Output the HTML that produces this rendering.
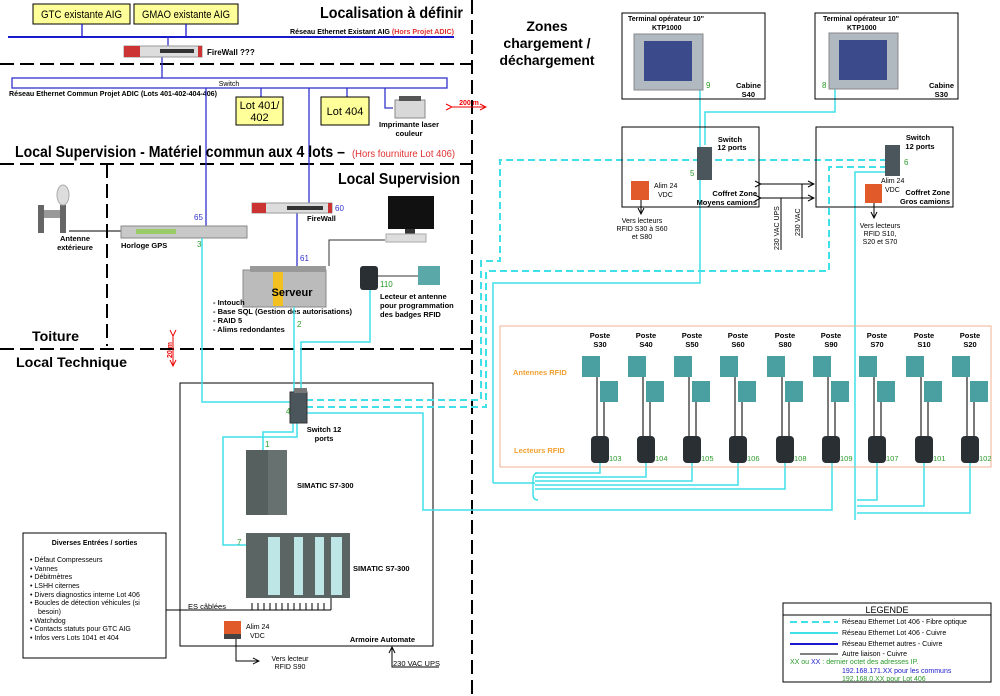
<!DOCTYPE html>
<html><head><meta charset="utf-8"><style>
html,body{margin:0;padding:0;background:#fff}
svg{display:block;font-family:"Liberation Sans",Arial,sans-serif}
.b{font-weight:bold}
</style></head><body>
<svg width="1000" height="696" viewBox="0 0 1000 696" xmlns="http://www.w3.org/2000/svg">
<defs>
<marker id="ah" markerWidth="8" markerHeight="8" refX="7" refY="4" orient="auto"><path d="M1,1 L7,4 L1,7" fill="none" stroke="#000" stroke-width="1"/></marker>
<marker id="ar" markerWidth="8" markerHeight="8" refX="7" refY="4" orient="auto"><path d="M1,1 L7,4 L1,7" fill="none" stroke="#e00" stroke-width="1"/></marker>
</defs>
<g stroke="#000" stroke-width="2" stroke-dasharray="14,6" fill="none">
<line x1="0" y1="64" x2="472" y2="64"/>
<line x1="0" y1="164" x2="472" y2="164"/>
<line x1="0" y1="349" x2="472" y2="349"/>
<line x1="472" y1="0" x2="472" y2="696"/>
<line x1="107" y1="164" x2="107" y2="346"/>
</g>
<rect x="33" y="4" width="97" height="20" fill="#ffff99" stroke="#000"/>
<text x="41" y="18" font-size="11" textLength="81" lengthAdjust="spacingAndGlyphs">GTC existante AIG</text>
<rect x="134" y="4" width="104" height="20" fill="#ffff99" stroke="#000"/>
<text x="142" y="18" font-size="11" textLength="88" lengthAdjust="spacingAndGlyphs">GMAO existante AIG</text>
<text x="320" y="18" font-size="16" class="b" textLength="143" lengthAdjust="spacingAndGlyphs">Localisation à définir</text>
<g stroke="#1a1acc" stroke-width="2" fill="none">
<line x1="8" y1="37" x2="454" y2="37"/>
<line x1="82" y1="24" x2="82" y2="37" stroke-width="1.3"/>
<line x1="186" y1="24" x2="186" y2="37" stroke-width="1.3"/>
</g>
<text x="290" y="34" font-size="7.5" class="b" textLength="164" lengthAdjust="spacingAndGlyphs">Réseau Ethernet Existant AIG <tspan fill="#e03030">(Hors Projet ADIC)</tspan></text>
<g stroke="#3333cc" stroke-width="1.3" fill="none">
<line x1="168" y1="37" x2="168" y2="48"/>
<line x1="162" y1="55" x2="162" y2="78"/>
</g>
<rect x="124" y="46" width="78" height="11" fill="#ddd" stroke="#999"/>
<rect x="124" y="46" width="16" height="11" fill="#c33"/><rect x="198" y="46" width="4" height="11" fill="#c33"/>
<rect x="160" y="49" width="34" height="4" fill="#333"/>
<text x="207" y="55" font-size="8" class="b">FireWall ???</text>
<rect x="12" y="78" width="435" height="10" fill="#fff" stroke="#3333cc" stroke-width="1.3"/>
<text x="229" y="86" font-size="7" text-anchor="middle">Switch</text>
<text x="9" y="96" font-size="7.5" class="b" textLength="208" lengthAdjust="spacingAndGlyphs">Réseau Ethernet Commun Projet ADIC (Lots 401-402-404-406)</text>
<g stroke="#3333cc" stroke-width="1.3" fill="none">
<line x1="261" y1="88" x2="261" y2="97"/>
<line x1="347" y1="88" x2="347" y2="97"/>
<polyline points="385,88 385,108 393,108"/>
<line x1="206" y1="88" x2="206" y2="226"/>
<line x1="309" y1="88" x2="309" y2="205"/>
<line x1="297" y1="213" x2="297" y2="266"/>
</g>
<rect x="236" y="97" width="47" height="28" fill="#ffff99" stroke="#000"/>
<text x="259.5" y="109" font-size="11" text-anchor="middle">Lot 401/</text>
<text x="259.5" y="121" font-size="11" text-anchor="middle">402</text>
<rect x="321" y="97" width="48" height="28" fill="#ffff99" stroke="#000"/>
<text x="345" y="115" font-size="11" text-anchor="middle">Lot 404</text>
<rect x="395" y="100" width="30" height="18" fill="#d8d8d8" stroke="#888"/><rect x="399" y="96" width="22" height="5" fill="#555"/>
<text x="409" y="127" font-size="7.5" class="b" text-anchor="middle">Imprimante laser</text>
<text x="409" y="136" font-size="7.5" class="b" text-anchor="middle">couleur</text>
<line x1="452" y1="107" x2="486" y2="107" stroke="#e00" marker-end="url(#ar)" marker-start="url(#ar)"/>
<text x="469" y="105" font-size="7" fill="#e00" class="b" text-anchor="middle">200 m</text>
<text x="15" y="157" font-size="15.5" class="b" textLength="330" lengthAdjust="spacingAndGlyphs">Local Supervision - Matériel commun aux 4 lots –</text>
<text x="352" y="157" font-size="10" fill="#e03030" textLength="103" lengthAdjust="spacingAndGlyphs">(Hors fourniture Lot 406)</text>
<text x="338" y="184" font-size="15.5" class="b" textLength="122" lengthAdjust="spacingAndGlyphs">Local Supervision</text>
<rect x="38" y="205" width="6" height="28" fill="#666"/><rect x="60" y="205" width="6" height="28" fill="#666"/><rect x="44" y="210" width="16" height="8" fill="#999"/>
<ellipse cx="63" cy="195" rx="6" ry="10" fill="#ddd" stroke="#aaa"/>
<text x="75" y="241" font-size="7.5" class="b" text-anchor="middle">Antenne</text>
<text x="75" y="250" font-size="7.5" class="b" text-anchor="middle">extérieure</text>
<line x1="69" y1="231" x2="121" y2="231" stroke="#000"/>
<rect x="121" y="226" width="126" height="12" fill="#c8c8c8" stroke="#888"/>
<rect x="136" y="229" width="40" height="5" fill="#9c6"/>
<text x="121" y="248" font-size="7.5" class="b">Horloge GPS</text>
<text x="194" y="220" font-size="8" fill="#3333cc">65</text>
<text x="197" y="247" font-size="8" fill="#2a9a2a">3</text>
<rect x="252" y="203" width="80" height="10" fill="#ddd" stroke="#999"/>
<rect x="252" y="203" width="14" height="10" fill="#c33"/><rect x="328" y="203" width="4" height="10" fill="#c33"/>
<rect x="287" y="206" width="36" height="4" fill="#333"/>
<text x="335" y="211" font-size="8" fill="#3333cc">60</text>
<text x="307" y="221" font-size="7.5" class="b">FireWall</text>
<text x="300" y="261" font-size="8" fill="#3333cc">61</text>
<polyline points="329,266 329,240 385,240" fill="none" stroke="#333"/>
<rect x="388" y="196" width="46" height="33" fill="#111"/><rect x="405" y="229" width="10" height="6" fill="#333"/>
<rect x="386" y="234" width="40" height="8" fill="#ddd" stroke="#aaa"/>
<rect x="243" y="270" width="83" height="37" fill="#bbb" stroke="#888"/>
<rect x="250" y="266" width="76" height="6" fill="#999"/>
<rect x="273" y="272" width="10" height="34" fill="#f2c020"/>
<text x="292" y="296" font-size="11" class="b" text-anchor="middle">Serveur</text>
<text x="213" y="305" font-size="7.5" class="b">- Intouch</text>
<text x="213" y="314" font-size="7.5" class="b">- Base SQL (Gestion des autorisations)</text>
<text x="213" y="323" font-size="7.5" class="b">- RAID 5</text>
<text x="213" y="332" font-size="7.5" class="b">- Alims redondantes</text>
<text x="297" y="327" font-size="8" fill="#2a9a2a">2</text>
<rect x="360" y="266" width="18" height="24" rx="3" fill="#2a2f33"/>
<line x1="378" y1="276" x2="418" y2="276" stroke="#333"/>
<rect x="418" y="266" width="22" height="19" fill="#5aa8a8"/>
<text x="380" y="287" font-size="8" fill="#2a9a2a">110</text>
<text x="380" y="299" font-size="7.5" class="b">Lecteur et antenne</text>
<text x="380" y="308" font-size="7.5" class="b">pour programmation</text>
<text x="380" y="317" font-size="7.5" class="b">des badges RFID</text>
<text x="32" y="341" font-size="14" class="b" textLength="47" lengthAdjust="spacingAndGlyphs">Toiture</text>
<text x="16" y="367" font-size="14" class="b" textLength="111" lengthAdjust="spacingAndGlyphs">Local Technique</text>
<line x1="173" y1="336" x2="173" y2="366" stroke="#e00" marker-end="url(#ar)" marker-start="url(#ar)"/>
<text x="172" y="358" font-size="7" fill="#e00" class="b" transform="rotate(-90 172 358)">20 m</text>
<rect x="180" y="383" width="253" height="263" fill="none" stroke="#000"/>
<g stroke="#3fe0e8" stroke-width="1.5" fill="none">
<polyline points="202,238 202,402 291,402"/>
<line x1="294" y1="307" x2="294" y2="392"/>
<polyline points="370,290 370,342 301,342 301,392"/>
<polyline points="297,423 297,437 223,437 223,545 246,545"/>
<polyline points="293,423 293,432 263,432 263,450"/>
<polyline points="302,413 423,413 423,510 832,510 832,463"/>
<polyline points="493,483 493,283 700,283 700,90"/>
<polyline points="705,145 705,112 835,112 835,88"/>
<polyline points="885,172 855,172 855,520"/>
<polyline points="493,483 535,483"/>
<path d="M538,473 Q533,473 533,480 L533,494 Q533,500 538,500"/>
<polyline points="535,473 600,473 600,463"/>
<polyline points="535,477 646,477 646,463"/>
<polyline points="535,481 692,481 692,463"/>
<polyline points="535,485 738,485 738,463"/>
<polyline points="535,489 785,489 785,463"/>
<polyline points="857,500 877,500 877,463"/>
<polyline points="857,506 924,506 924,463"/>
<polyline points="857,513 970,513 970,463"/>
</g>
<g stroke="#3fe0e8" stroke-width="2" stroke-dasharray="7,4" fill="none">
<polyline points="306,400 481,400 481,261 500,261 500,160 885,160"/>
<polyline points="306,407 486,407 486,271 829,271 829,167 885,167"/>
</g>
<rect x="290" y="392" width="17" height="31" fill="#4a555c" stroke="#333"/>
<rect x="294" y="388" width="13" height="5" fill="#777"/>
<text x="286" y="414" font-size="8" fill="#2a9a2a">4</text>
<text x="324" y="432" font-size="7.5" class="b" text-anchor="middle">Switch 12</text>
<text x="324" y="441" font-size="7.5" class="b" text-anchor="middle">ports</text>
<text x="265" y="447" font-size="8" fill="#2a9a2a">1</text>
<rect x="246" y="450" width="41" height="65" fill="#56605f"/>
<rect x="268" y="450" width="19" height="65" fill="#667170"/>
<text x="297" y="488" font-size="7.5" class="b">SIMATIC S7-300</text>
<text x="237" y="545" font-size="8" fill="#2a9a2a">7</text>
<rect x="246" y="533" width="104" height="65" fill="#5a6564"/>
<rect x="268" y="537" width="12" height="58" fill="#bfe6e6"/><rect x="294" y="537" width="9" height="58" fill="#bfe6e6"/><rect x="315" y="537" width="9" height="58" fill="#bfe6e6"/><rect x="331" y="537" width="11" height="58" fill="#bfe6e6"/>
<text x="353" y="571" font-size="7.5" class="b">SIMATIC S7-300</text>
<text x="188" y="609" font-size="7.5">ES câblées</text>
<line x1="166" y1="610" x2="331" y2="610" stroke="#000"/>
<g stroke="#000"><line x1="252" y1="603" x2="252" y2="610"/><line x1="258" y1="603" x2="258" y2="610"/><line x1="264" y1="603" x2="264" y2="610"/><line x1="270" y1="603" x2="270" y2="610"/><line x1="276" y1="603" x2="276" y2="610"/><line x1="282" y1="603" x2="282" y2="610"/><line x1="288" y1="603" x2="288" y2="610"/><line x1="294" y1="603" x2="294" y2="610"/><line x1="300" y1="603" x2="300" y2="610"/><line x1="306" y1="603" x2="306" y2="610"/><line x1="312" y1="603" x2="312" y2="610"/><line x1="318" y1="603" x2="318" y2="610"/><line x1="324" y1="603" x2="324" y2="610"/><line x1="331" y1="598" x2="331" y2="610"/></g>
<rect x="23" y="533" width="143" height="125" fill="#fff" stroke="#000"/>
<text x="94.5" y="545" font-size="7" class="b" text-anchor="middle">Diverses Entrées / sorties</text>
<g font-size="7">
<text x="30" y="562">•  Défaut Compresseurs</text>
<text x="30" y="571">•  Vannes</text>
<text x="30" y="579">•  Débitmètres</text>
<text x="30" y="588">•  LSHH citernes</text>
<text x="30" y="597">•  Divers diagnostics interne Lot 406</text>
<text x="30" y="605">•  Boucles de détection véhicules (si</text>
<text x="38" y="614">besoin)</text>
<text x="30" y="623">•  Watchdog</text>
<text x="30" y="631">•  Contacts statuts pour GTC AIG</text>
<text x="30" y="640">•  Infos vers Lots 1041 et 404</text>
</g>
<rect x="224" y="621" width="17" height="18" fill="#e05a2a"/><rect x="224" y="634" width="17" height="5" fill="#444"/>
<text x="246" y="629" font-size="7">Alim 24</text><text x="250" y="638" font-size="7">VDC</text>
<polyline points="236,639 236,661 259,661" fill="none" stroke="#000" marker-end="url(#ah)"/>
<text x="290" y="661" font-size="7" text-anchor="middle">Vers lecteur</text>
<text x="290" y="669" font-size="7" text-anchor="middle">RFID S90</text>
<text x="415" y="642" font-size="7.5" class="b" text-anchor="end">Armoire Automate</text>
<polyline points="439,667 392,667 392,647" fill="none" stroke="#000" marker-end="url(#ah)"/>
<text x="393" y="666" font-size="7.5">230 VAC UPS</text>
<text x="547" y="31" font-size="14" class="b" text-anchor="middle">Zones</text>
<text x="547" y="48" font-size="14" class="b" text-anchor="middle">chargement /</text>
<text x="547" y="65" font-size="14" class="b" text-anchor="middle" textLength="95" lengthAdjust="spacingAndGlyphs">déchargement</text>
<g fill="none" stroke="#000">
<rect x="622" y="13" width="143" height="86"/>
<rect x="815" y="13" width="143" height="86"/>
<rect x="622" y="127" width="137" height="80"/>
<rect x="816" y="127" width="137" height="80"/>
</g>
<rect x="634" y="34" width="69" height="56" fill="#b0b8c0" stroke="#888"/><rect x="644" y="41" width="48" height="40" fill="#3a4a8a"/>
<rect x="829" y="33" width="69" height="56" fill="#b0b8c0" stroke="#888"/><rect x="839" y="40" width="48" height="40" fill="#3a4a8a"/>
<text x="628" y="21" font-size="7" class="b">Terminal opérateur 10''</text><text x="652" y="30" font-size="7" class="b">KTP1000</text>
<text x="823" y="21" font-size="7" class="b">Terminal opérateur 10''</text><text x="847" y="30" font-size="7" class="b">KTP1000</text>
<text x="706" y="88" font-size="8" fill="#2a9a2a">9</text>
<text x="822" y="88" font-size="8" fill="#2a9a2a">8</text>
<text x="761" y="88" font-size="7.5" class="b" text-anchor="end">Cabine</text><text x="755" y="97" font-size="7.5" class="b" text-anchor="end">S40</text>
<text x="954" y="88" font-size="7.5" class="b" text-anchor="end">Cabine</text><text x="948" y="97" font-size="7.5" class="b" text-anchor="end">S30</text>
<rect x="697" y="147" width="15" height="33" fill="#4a555c"/>
<rect x="885" y="145" width="15" height="31" fill="#4a555c"/>
<text x="730" y="142" font-size="7.5" class="b" text-anchor="middle">Switch</text><text x="732" y="150" font-size="7.5" class="b" text-anchor="middle">12 ports</text>
<text x="918" y="140" font-size="7.5" class="b" text-anchor="middle">Switch</text><text x="920" y="149" font-size="7.5" class="b" text-anchor="middle">12 ports</text>
<text x="690" y="176" font-size="8" fill="#2a9a2a">5</text>
<text x="904" y="165" font-size="8" fill="#2a9a2a">6</text>
<rect x="631" y="181" width="18" height="19" fill="#e05a2a"/>
<rect x="865" y="184" width="17" height="19" fill="#e05a2a"/>
<text x="654" y="188" font-size="7">Alim 24</text><text x="658" y="197" font-size="7">VDC</text>
<text x="881" y="183" font-size="7">Alim 24</text><text x="885" y="192" font-size="7">VDC</text>
<text x="757" y="196" font-size="7.5" class="b" text-anchor="end">Coffret Zone</text><text x="757" y="205" font-size="7.5" class="b" text-anchor="end">Moyens camions</text>
<text x="950" y="195" font-size="7.5" class="b" text-anchor="end">Coffret Zone</text><text x="950" y="204" font-size="7.5" class="b" text-anchor="end">Gros camions</text>
<line x1="641" y1="200" x2="641" y2="214" stroke="#000" marker-end="url(#ah)"/>
<line x1="874" y1="203" x2="874" y2="218" stroke="#000" marker-end="url(#ah)"/>
<text x="642" y="223" font-size="7" text-anchor="middle">Vers lecteurs</text><text x="642" y="231" font-size="7" text-anchor="middle">RFID S30 à S60</text><text x="642" y="239" font-size="7" text-anchor="middle">et S80</text>
<text x="880" y="228" font-size="7" text-anchor="middle">Vers lecteurs</text><text x="880" y="236" font-size="7" text-anchor="middle">RFID S10,</text><text x="880" y="244" font-size="7" text-anchor="middle">S20 et S70</text>
<line x1="761" y1="184" x2="814" y2="184" stroke="#000" marker-end="url(#ah)" marker-start="url(#ah)"/>
<line x1="761" y1="198" x2="814" y2="198" stroke="#000" marker-end="url(#ah)" marker-start="url(#ah)"/>
<line x1="781" y1="198" x2="781" y2="250" stroke="#000"/>
<line x1="802" y1="184" x2="802" y2="238" stroke="#000"/>
<text x="779" y="250" font-size="7" transform="rotate(-90 779 250)">230 VAC UPS</text>
<text x="800" y="236" font-size="7" transform="rotate(-90 800 236)">230 VAC</text>
<rect x="500" y="326" width="491" height="141" fill="none" stroke="#f0b090"/>
<text x="513" y="375" font-size="7.5" class="b" fill="#f0a030">Antennes RFID</text>
<text x="514" y="453" font-size="7.5" class="b" fill="#f0a030">Lecteurs RFID</text>
<g font-size="7.5" class="b" text-anchor="middle">
<text x="600" y="338">Poste</text><text x="600" y="347">S30</text>
<text x="646" y="338">Poste</text><text x="646" y="347">S40</text>
<text x="692" y="338">Poste</text><text x="692" y="347">S50</text>
<text x="738" y="338">Poste</text><text x="738" y="347">S60</text>
<text x="785" y="338">Poste</text><text x="785" y="347">S80</text>
<text x="831" y="338">Poste</text><text x="831" y="347">S90</text>
<text x="877" y="338">Poste</text><text x="877" y="347">S70</text>
<text x="924" y="338">Poste</text><text x="924" y="347">S10</text>
<text x="970" y="338">Poste</text><text x="970" y="347">S20</text>
</g>
<g id="col">
<line x1="597" y1="377" x2="597" y2="437" stroke="#333" stroke-width="1.3"/><line x1="604" y1="402" x2="604" y2="437" stroke="#333" stroke-width="1.3"/>
<rect x="582" y="356" width="18" height="21" fill="#4aa0a0"/><rect x="600" y="381" width="18" height="21" fill="#4aa0a0"/>
<rect x="591" y="436" width="18" height="27" rx="4" fill="#2a2f33"/>
</g>
<use href="#col" x="46"/><use href="#col" x="92"/><use href="#col" x="138"/><use href="#col" x="185"/><use href="#col" x="231"/><use href="#col" x="277"/><use href="#col" x="324"/><use href="#col" x="370"/>
<g font-size="7.5" fill="#2a9a2a">
<text x="609" y="461">103</text><text x="655" y="461">104</text><text x="701" y="461">105</text><text x="747" y="461">106</text><text x="794" y="461">108</text><text x="840" y="461">109</text><text x="886" y="461">107</text><text x="933" y="461">101</text><text x="979" y="461">102</text>
</g>
<rect x="783" y="603" width="208" height="79" fill="#fff" stroke="#000"/>
<line x1="783" y1="615" x2="991" y2="615" stroke="#000"/>
<text x="887" y="613" font-size="9" text-anchor="middle">LEGENDE</text>
<line x1="790" y1="622" x2="838" y2="622" stroke="#3fe0e8" stroke-width="2" stroke-dasharray="7,4"/>
<line x1="790" y1="633" x2="838" y2="633" stroke="#3fe0e8" stroke-width="2"/>
<line x1="790" y1="644" x2="838" y2="644" stroke="#1a1acc" stroke-width="2"/>
<line x1="800" y1="654" x2="838" y2="654" stroke="#000"/>
<g font-size="7"><text x="842" y="624">Réseau Ethernet Lot 406 - Fibre optique</text>
<text x="842" y="635">Réseau Ethernet Lot 406 - Cuivre</text>
<text x="842" y="646">Réseau Ethernet autres - Cuivre</text>
<text x="842" y="656">Autre liaison - Cuivre</text>
<text x="790" y="664" fill="#2a9a2a">XX ou <tspan fill="#1a1acc">XX</tspan> : dernier octet des adresses IP.</text>
<text x="842" y="673" fill="#1a1acc">192.168.171.XX pour les communs</text>
<text x="842" y="681" fill="#2a9a2a">192.168.0.XX pour Lot 406</text></g>
</svg>
</body></html>
